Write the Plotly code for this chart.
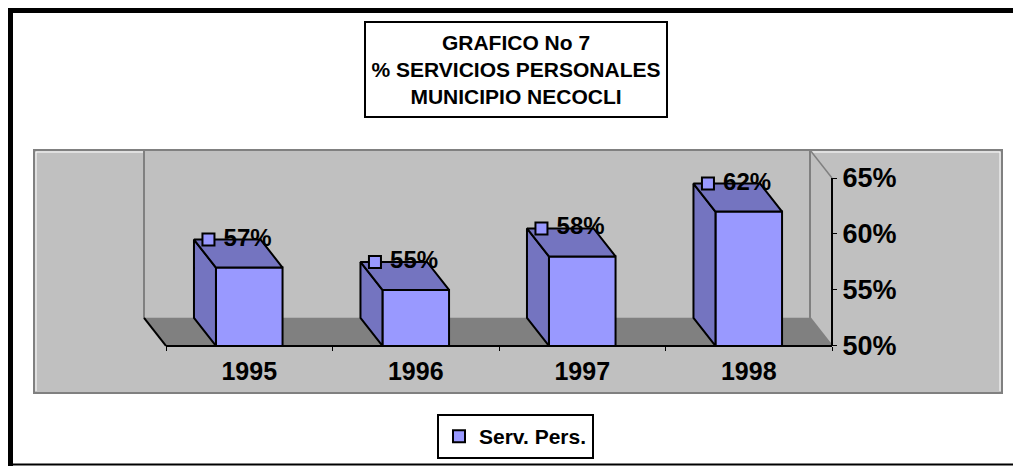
import plotly.graph_objects as go

# ---- data ----
years = ["1995", "1996", "1997", "1998"]
values = [57, 55, 58, 62]
y_tick_vals = [50, 55, 60, 65]
series_name = "Serv. Pers."
title_lines = ["GRAFICO No 7", "% SERVICIOS PERSONALES", "MUNICIPIO NECOCLI"]

# ---- styling / 3D projection constants ----
BASE = 50.0
TOP = 65.0
DX = -0.132      # depth offset in category units
DY = 2.5         # depth offset in percent units
W = 0.40         # bar width (category units)
FRONT = "#9999FF"
SIDE = "#7474C0"
WALL = "#C0C0C0"
FLOOR = "#808080"
EDGE = "#808080"
FONT = "Liberation Sans, Arial, sans-serif"

# page offset (default body margin) and figure size
OFF = 8
FW, FH = 1021 - OFF, 466 - OFF
# plot area in page pixels
PL, PR, PT, PB = 34, 1002, 150, 393
L, R, T, B = PL - OFF, FW - (PR - OFF), PT - OFF, FH - (PB - OFF)
plot_w = PR - PL
plot_h = PB - PT


def px_x(p):
    return (p - PL) / plot_w


def px_y(p):
    return (PB - p) / plot_h


n = len(years)
idx = list(range(n))
x_lo, x_hi = -0.5, n - 0.5
cat_px = (832 - 166) / n


def path(pts):
    return "M " + " L ".join(f"{x},{y}" for x, y in pts) + " Z"


def seg(x0, y0, x1, y1, color, w):
    return dict(type="line", xref="x", yref="y", x0=x0, y0=y0, x1=x1, y1=y1,
                line=dict(color=color, width=w), layer="below")


def pseg(x0, y0, x1, y1, color, w):
    return dict(type="line", xref="paper", yref="paper",
                x0=px_x(x0), y0=px_y(y0), x1=px_x(x1), y1=px_y(y1),
                line=dict(color=color, width=w), layer="below")


# walls and floor (drawn below traces)
wall_shapes = [
    dict(type="rect", xref="paper", yref="paper", x0=0, x1=1, y0=0, y1=1,
         line=dict(color=EDGE, width=2), layer="below"),
    pseg(36, 152, 144, 152, "white", 1),
    pseg(810, 152, 1000, 152, "white", 1),
    pseg(36, 152, 36, 391, "white", 1),
    pseg(1000, 152, 1000, 391, "white", 1),
    dict(type="path", xref="x", yref="y", layer="below",
         path=path([(x_lo, BASE), (x_hi, BASE), (x_hi + DX, BASE + DY), (x_lo + DX, BASE + DY)]),
         fillcolor=FLOOR, line=dict(color=FLOOR, width=0.5)),
    seg(x_lo + DX, BASE + DY, x_lo + DX, TOP + DY, EDGE, 2),
    seg(x_hi + DX, BASE + DY, x_hi + DX, TOP + DY, EDGE, 2),
    seg(x_lo + DX, TOP + DY, x_hi + DX, TOP + DY, EDGE, 2),
    seg(x_hi, BASE, x_hi + DX, BASE + DY, EDGE, 2),
    seg(x_hi + DX, TOP + DY, x_hi, TOP, EDGE, 1.5),
]

fig = go.Figure()


def poly(xs, ys, fill=None, line_color="black", lw=2):
    fig.add_trace(go.Scatter(
        x=xs, y=ys, mode="lines",
        fill="toself" if fill else None,
        fillcolor=fill,
        line=dict(color=line_color, width=lw),
        hoverinfo="skip", showlegend=False, cliponaxis=False,
    ))


# front faces as bars
fig.add_trace(go.Bar(
    x=idx, y=[v - BASE for v in values], base=BASE, width=W,
    marker=dict(color=FRONT, line=dict(color="black", width=2)),
    name=series_name,
))

# floor left edge, value axis line and category axis line
poly([x_lo, x_lo + DX], [BASE, BASE + DY], line_color="black", lw=2)
poly([x_hi, x_hi], [BASE, TOP], line_color="black", lw=2)
poly([x_lo, x_hi], [BASE, BASE], line_color="black", lw=2)

# bar side and top faces
for i, v in zip(idx, values):
    l, r = i - W / 2, i + W / 2
    poly([l, l, l + DX, l + DX, l], [BASE, v, v + DY, BASE + DY, BASE], fill=SIDE)
    poly([l, r, r + DX, l + DX, l], [v, v, v + DY, v + DY, v], fill=SIDE)

# data labels (legend key + value)
fig.add_trace(go.Scatter(
    x=[i - 0.245 for i in idx],
    y=[v + DY for v in values],
    mode="markers+text",
    marker=dict(symbol="square", size=12, color=FRONT, line=dict(color="black", width=2)),
    text=["\u00a0" + f"{v:.0f}%" for v in values],
    textposition="middle right",
    textfont=dict(family=FONT, size=24, color="black", weight="bold"),
    cliponaxis=False, hoverinfo="skip", showlegend=False,
))

fig.update_layout(
    width=FW, height=FH, autosize=False,
    margin=dict(l=L, r=R, t=T, b=B, pad=0, autoexpand=False),
    paper_bgcolor="white", plot_bgcolor=WALL,
    xaxis=dict(range=[x_lo - (166 - PL) / cat_px, x_hi + (PR - 832) / cat_px],
               anchor="free", position=px_y(346), automargin=False,
               tickmode="array", tickvals=idx, ticktext=years,
               ticks="", showline=False, showgrid=False, zeroline=False,
               ticklabelstandoff=8,
               minor=dict(tickmode="array",
                          tickvals=[x_lo + k for k in range(n + 1)],
                          ticks="outside", ticklen=4, tickcolor="black",
                          tickwidth=1, showgrid=False),
               tickfont=dict(family=FONT, size=25, color="black", weight="bold"),
               fixedrange=True),
    yaxis=dict(range=[45.8, TOP + DY], anchor="free", position=px_x(832), side="right",
               automargin=False,
               tickvals=y_tick_vals, ticktext=[f"{t}%" for t in y_tick_vals],
               ticks="outside", ticklen=4, tickcolor="black", tickwidth=1,
               ticklabelstandoff=0,
               showline=False, showgrid=False, zeroline=False,
               tickfont=dict(family=FONT, size=27, color="black", weight="bold"),
               fixedrange=True),
    showlegend=True,
    legend=dict(x=px_x(437), y=px_y(414), xanchor="left", yanchor="top",
                bgcolor="white", bordercolor="black", borderwidth=2,
                font=dict(family=FONT, size=21, color="black", weight="bold")),
    shapes=wall_shapes + [
        dict(type="line", xref="paper", yref="paper", x0=px_x(7), x1=px_x(1030),
             y0=px_y(10), y1=px_y(10), line=dict(color="black", width=6)),
        dict(type="line", xref="paper", yref="paper", x0=px_x(10), x1=px_x(10),
             y0=px_y(7), y1=px_y(470), line=dict(color="black", width=6)),
        dict(type="line", xref="paper", yref="paper", x0=px_x(7), x1=px_x(1030),
             y0=px_y(464.5), y1=px_y(464.5), line=dict(color="black", width=2)),
    ],
    annotations=[
        dict(xref="paper", yref="paper", x=px_x(516), y=px_y(70),
             xanchor="center", yanchor="middle", showarrow=False,
             text="<br>".join(title_lines), align="center",
             width=298, height=91, bgcolor="white",
             bordercolor="black", borderwidth=2, borderpad=1,
             font=dict(family=FONT, size=21, color="black", weight="bold")),
    ],
)

fig.write_html("out.html")
